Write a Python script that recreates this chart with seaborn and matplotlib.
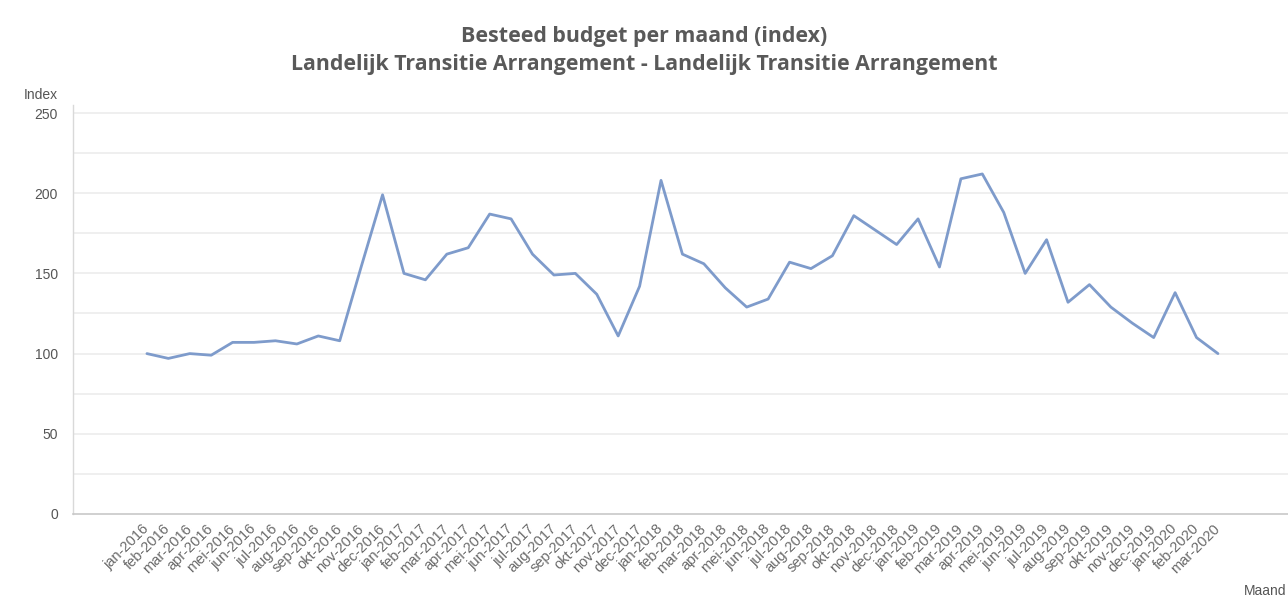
import matplotlib
matplotlib.use("Agg")
import matplotlib.pyplot as plt
import numpy as np
import pandas as pd
import seaborn as sns

# Monthly labels (Dutch abbreviations) and spent-budget index values
months = ["jan", "feb", "mar", "apr", "mei", "jun", "jul", "aug", "sep", "okt", "nov", "dec"]
month_labels = [f"{m}-{y}" for y in range(2016, 2021) for m in months][:51]

index_values = [
    100, 97, 100, 99, 107, 107, 108, 106, 111, 108, 154, 199,
    150, 146, 162, 166, 187, 184, 162, 149, 150, 137, 111, 142,
    208, 162, 156, 141, 129, 134, 157, 153, 161, 186, 177, 168,
    184, 154, 209, 212, 188, 150, 171, 132, 143, 129, 119, 110,
    138, 110, 100,
]

title_lines = ["Besteed budget per maand (index)",
               "Landelijk Transitie Arrangement - Landelijk Transitie Arrangement"]
y_ticks = [0, 50, 100, 150, 200, 250]

df = pd.DataFrame({"pos": np.arange(len(index_values)), "index": index_values})

sns.set_style("white")
plt.rcParams["font.family"] = ["Liberation Sans", "DejaVu Sans"]

fig = plt.figure(figsize=(12.88, 6.03), dpi=100)
ax = fig.add_axes([0.0567, 0.1476, 0.9433, 0.6783])

# light horizontal grid every 25 index points
for g in range(25, 251, 25):
    ax.axhline(g, color="#efefef", lw=1.4, zorder=0)

sns.lineplot(data=df, x="pos", y="index", ax=ax, color="#7e9bcb", lw=2.0, zorder=3)

ax.set_xlim(-3.45, 53.27)
ax.set_ylim(0, 255)
ax.set_yticks(y_ticks)
ax.set_yticklabels([str(t) for t in y_ticks], fontsize=10, color="#555555")
ax.set_xticks(df["pos"])
ax.set_xticklabels(month_labels, rotation=45, ha="right", va="center",
                   rotation_mode="anchor", fontsize=10.5, color="#6a6a6a")
ax.tick_params(axis="x", length=0, pad=9)
ax.tick_params(axis="y", length=0, pad=11)
ax.set_xlabel("")
ax.set_ylabel("")

for side in ["top", "right"]:
    ax.spines[side].set_visible(False)
ax.spines["left"].set_color("#d9d9d9")
ax.spines["bottom"].set_color("#c8c8c8")
ax.spines["left"].set_linewidth(1.0)
ax.spines["bottom"].set_linewidth(1.2)

fig.text(0.5, 0.940, title_lines[0], ha="center", va="center", fontsize=15.4,
         fontweight="bold", color="#595959", family=["Open Sans", "DejaVu Sans"])
fig.text(0.5, 0.893, title_lines[1], ha="center", va="center", fontsize=15.4,
         fontweight="bold", color="#595959", family=["Open Sans", "DejaVu Sans"])
fig.text(0.045, 0.843, "Index", ha="right", va="center", fontsize=10, color="#555555")
fig.text(0.999, 0.008, "Maand", ha="right", va="bottom", fontsize=10, color="#555555")

fig.savefig("out.png", dpi=100)
